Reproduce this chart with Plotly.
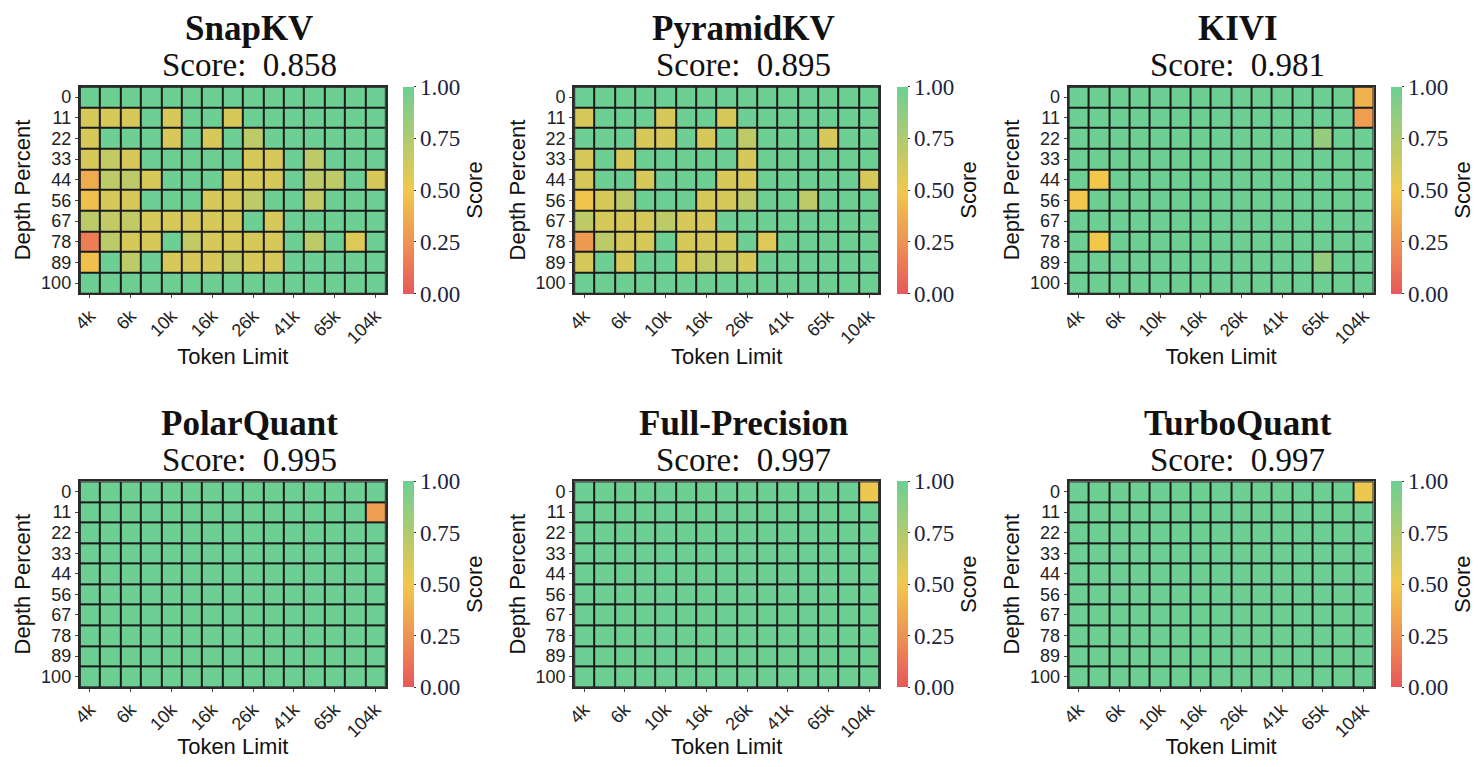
import plotly.graph_objects as go

# ---------------- data ----------------
depth_labels = ["0", "11", "22", "33", "44", "56", "67", "78", "89", "100"]
token_labels = ["4k", "5k", "6k", "8k", "10k", "13k", "16k", "21k", "26k",
                "33k", "41k", "52k", "65k", "83k", "104k"]
shown_token_labels = ["4k", "6k", "10k", "16k", "26k", "41k", "65k", "104k"]

methods = ["SnapKV", "PyramidKV", "KIVI", "PolarQuant", "Full-Precision", "TurboQuant"]
overall_scores = [0.858, 0.895, 0.981, 0.995, 0.997, 0.997]

snapkv = [
    [1, 1, 1, 1, 1, 1, 1, 1, 1, 1, 1, 1, 1, 1, 1],
    [.6, .6, .6, 1, .6, 1, 1, .6, 1, 1, 1, 1, 1, 1, 1],
    [.6, 1, 1, 1, .6, 1, .6, 1, .7, 1, 1, 1, 1, 1, 1],
    [.6, .68, .6, 1, 1, 1, 1, 1, .6, .6, 1, .7, 1, 1, 1],
    [.37, .7, .7, .6, 1, 1, 1, .6, .6, .6, 1, .7, .7, 1, .6],
    [.46, .6, .6, 1, 1, 1, .6, .6, .7, 1, 1, .68, 1, 1, 1],
    [.7, .68, .68, .6, .6, .6, .6, .6, 1, .6, 1, 1, 1, 1, 1],
    [.16, .7, .6, .6, 1, .68, .6, .6, .6, .6, 1, .7, 1, .58, 1],
    [.46, 1, .7, 1, .6, .6, .6, .68, .6, .6, 1, 1, 1, 1, 1],
    [1, 1, 1, 1, 1, 1, 1, 1, 1, 1, 1, 1, 1, 1, 1],
]

pyramidkv = [
    [1, 1, 1, 1, 1, 1, 1, 1, 1, 1, 1, 1, 1, 1, 1],
    [.6, 1, 1, 1, .6, 1, 1, .6, 1, 1, 1, 1, 1, 1, 1],
    [1, 1, 1, .6, .6, 1, .6, 1, .7, 1, 1, 1, .6, 1, 1],
    [.6, 1, .6, 1, 1, 1, 1, 1, .6, 1, 1, 1, 1, 1, 1],
    [.6, 1, 1, .6, 1, 1, 1, .6, .6, 1, 1, 1, 1, 1, .6],
    [.48, .6, .7, 1, 1, 1, .6, .6, .7, 1, 1, .7, 1, 1, 1],
    [.7, .6, .6, .6, .7, .6, .6, 1, 1, 1, 1, 1, 1, 1, 1],
    [.28, .7, .6, .6, 1, .6, .6, .6, 1, .58, 1, 1, 1, 1, 1],
    [.6, 1, .6, 1, 1, .6, .68, .68, .6, 1, 1, 1, 1, 1, 1],
    [1, 1, 1, 1, 1, 1, 1, 1, 1, 1, 1, 1, 1, 1, 1],
]

kivi = [
    [1, 1, 1, 1, 1, 1, 1, 1, 1, 1, 1, 1, 1, 1, .39],
    [1, 1, 1, 1, 1, 1, 1, 1, 1, 1, 1, 1, 1, 1, .3],
    [1, 1, 1, 1, 1, 1, 1, 1, 1, 1, 1, 1, .85, 1, 1],
    [1, 1, 1, 1, 1, 1, 1, 1, 1, 1, 1, 1, 1, 1, 1],
    [1, .5, 1, 1, 1, 1, 1, 1, 1, 1, 1, 1, 1, 1, 1],
    [.5, 1, 1, 1, 1, 1, 1, 1, 1, 1, 1, 1, 1, 1, 1],
    [1, 1, 1, 1, 1, 1, 1, 1, 1, 1, 1, 1, 1, 1, 1],
    [1, .5, 1, 1, 1, 1, 1, 1, 1, 1, 1, 1, 1, 1, 1],
    [1, 1, 1, 1, 1, 1, 1, 1, 1, 1, 1, 1, .85, 1, 1],
    [1, 1, 1, 1, 1, 1, 1, 1, 1, 1, 1, 1, 1, 1, 1],
]

polarquant = [
    [1, 1, 1, 1, 1, 1, 1, 1, 1, 1, 1, 1, 1, 1, 1],
    [1, 1, 1, 1, 1, 1, 1, 1, 1, 1, 1, 1, 1, 1, .3],
    [1, 1, 1, 1, 1, 1, 1, 1, 1, 1, 1, 1, 1, 1, 1],
    [1, 1, 1, 1, 1, 1, 1, 1, 1, 1, 1, 1, 1, 1, 1],
    [1, 1, 1, 1, 1, 1, 1, 1, 1, 1, 1, 1, 1, 1, 1],
    [1, 1, 1, 1, 1, 1, 1, 1, 1, 1, 1, 1, 1, 1, 1],
    [1, 1, 1, 1, 1, 1, 1, 1, 1, 1, 1, 1, 1, 1, 1],
    [1, 1, 1, 1, 1, 1, 1, 1, 1, 1, 1, 1, 1, 1, 1],
    [1, 1, 1, 1, 1, 1, 1, 1, 1, 1, 1, 1, 1, 1, 1],
    [1, 1, 1, 1, 1, 1, 1, 1, 1, 1, 1, 1, 1, 1, 1],
]

full_precision = [
    [1, 1, 1, 1, 1, 1, 1, 1, 1, 1, 1, 1, 1, 1, .52],
    [1, 1, 1, 1, 1, 1, 1, 1, 1, 1, 1, 1, 1, 1, 1],
    [1, 1, 1, 1, 1, 1, 1, 1, 1, 1, 1, 1, 1, 1, 1],
    [1, 1, 1, 1, 1, 1, 1, 1, 1, 1, 1, 1, 1, 1, 1],
    [1, 1, 1, 1, 1, 1, 1, 1, 1, 1, 1, 1, 1, 1, 1],
    [1, 1, 1, 1, 1, 1, 1, 1, 1, 1, 1, 1, 1, 1, 1],
    [1, 1, 1, 1, 1, 1, 1, 1, 1, 1, 1, 1, 1, 1, 1],
    [1, 1, 1, 1, 1, 1, 1, 1, 1, 1, 1, 1, 1, 1, 1],
    [1, 1, 1, 1, 1, 1, 1, 1, 1, 1, 1, 1, 1, 1, 1],
    [1, 1, 1, 1, 1, 1, 1, 1, 1, 1, 1, 1, 1, 1, 1],
]

turboquant = [
    [1, 1, 1, 1, 1, 1, 1, 1, 1, 1, 1, 1, 1, 1, .52],
    [1, 1, 1, 1, 1, 1, 1, 1, 1, 1, 1, 1, 1, 1, 1],
    [1, 1, 1, 1, 1, 1, 1, 1, 1, 1, 1, 1, 1, 1, 1],
    [1, 1, 1, 1, 1, 1, 1, 1, 1, 1, 1, 1, 1, 1, 1],
    [1, 1, 1, 1, 1, 1, 1, 1, 1, 1, 1, 1, 1, 1, 1],
    [1, 1, 1, 1, 1, 1, 1, 1, 1, 1, 1, 1, 1, 1, 1],
    [1, 1, 1, 1, 1, 1, 1, 1, 1, 1, 1, 1, 1, 1, 1],
    [1, 1, 1, 1, 1, 1, 1, 1, 1, 1, 1, 1, 1, 1, 1],
    [1, 1, 1, 1, 1, 1, 1, 1, 1, 1, 1, 1, 1, 1, 1],
    [1, 1, 1, 1, 1, 1, 1, 1, 1, 1, 1, 1, 1, 1, 1],
]

matrices = [snapkv, pyramidkv, kivi, polarquant, full_precision, turboquant]

# ---------------- layout ----------------
# the page body has an 8px margin, so the figure is drawn 8px in from the window edge
OFF = 8
W, H = 1484 - 2 * OFF, 767 - 2 * OFF
col_px = [(73, 385), (577, 888), (1081, 1392)]
cbar_left_px = [403, 906, 1410]
row_px = [(88, 298), (489, 698)]

colorscale = [[0.0, "#E8575B"], [0.25, "#EE9352"], [0.5, "#F1C84B"],
              [0.75, "#AFCB6F"], [1.0, "#6DCF94"]]
sans = "Liberation Sans, Arial, sans-serif"
serif = "Liberation Serif, Times New Roman, serif"


def px_x(v):
    return (v - OFF) / W


def px_y(v):
    return 1 - (v - OFF) / H


fig = go.Figure()
layout = dict(
    width=W, height=H,
    margin=dict(l=0, r=0, t=0, b=0),
    paper_bgcolor="white",
    plot_bgcolor="#1b1b1b",
    showlegend=False,
    annotations=[],
)

for i, (name, score, z) in enumerate(zip(methods, overall_scores, matrices)):
    r, c = divmod(i, 3)
    x0, x1 = col_px[c]
    y0, y1 = row_px[r]
    sfx = "" if i == 0 else str(i + 1)

    fig.add_trace(go.Heatmap(
        z=z, x=token_labels, y=depth_labels,
        xaxis="x" + sfx, yaxis="y" + sfx,
        zmin=0, zmax=1, colorscale=colorscale,
        xgap=2, ygap=2,
        showscale=True,
        colorbar=dict(
            x=px_x(cbar_left_px[c]), xanchor="left", xpad=0,
            y=px_y((y0 + y1) / 2), yanchor="middle", ypad=0,
            len=(y1 - y0) / H, lenmode="fraction",
            thickness=11, outlinewidth=0,
            tickvals=[0, 0.25, 0.5, 0.75, 1.0],
            ticktext=["0.00", "0.25", "0.50", "0.75", "1.00"],
            ticks="outside", ticklen=2, tickcolor="#333",
            tickfont=dict(family=serif, size=23, color="#1c2340"),
            title=dict(text="Score", side="right",
                       font=dict(family=sans, size=22, color="#111")),
        ),
        hovertemplate="%{x}, %{y}: %{z}<extra></extra>",
    ))

    layout["xaxis" + sfx] = dict(
        domain=[px_x(x0), px_x(x1)], anchor="y" + sfx, type="category",
        tickmode="array", tickvals=shown_token_labels, ticktext=shown_token_labels,
        tickangle=-45, tickfont=dict(family=sans, size=18, color="#222"),
        ticks="outside", ticklen=3, tickcolor="#444",
        showline=True, linecolor="#2a2a2a", linewidth=2, mirror=True,
        showgrid=False, zeroline=False,
        title=dict(text="Token Limit", standoff=2,
                   font=dict(family=sans, size=22, color="#111")),
    )
    layout["yaxis" + sfx] = dict(
        domain=[px_y(y1), px_y(y0)], anchor="x" + sfx, type="category",
        autorange="reversed",
        tickmode="array", tickvals=depth_labels, ticktext=depth_labels,
        tickfont=dict(family=sans, size=18, color="#222"),
        ticks="outside", ticklen=3, tickcolor="#444",
        showline=True, linecolor="#2a2a2a", linewidth=2, mirror=True,
        showgrid=False, zeroline=False,
        title=dict(text="Depth Percent", standoff=4,
                   font=dict(family=sans, size=22, color="#111")),
    )

    cx = px_x((x0 + x1) / 2 + 17)
    layout["annotations"].append(dict(
        text="<b>" + name + "</b>", x=cx, y=px_y(y0 - 59),
        xref="paper", yref="paper", xanchor="center", yanchor="middle",
        showarrow=False, font=dict(family=serif, size=35, color="#111"),
    ))
    layout["annotations"].append(dict(
        text="Score:  %.3f" % score, x=cx, y=px_y(y0 - 22),
        xref="paper", yref="paper", xanchor="center", yanchor="middle",
        showarrow=False, font=dict(family=serif, size=33, color="#111"),
    ))

fig.update_layout(**layout)
fig.write_html("out.html")
